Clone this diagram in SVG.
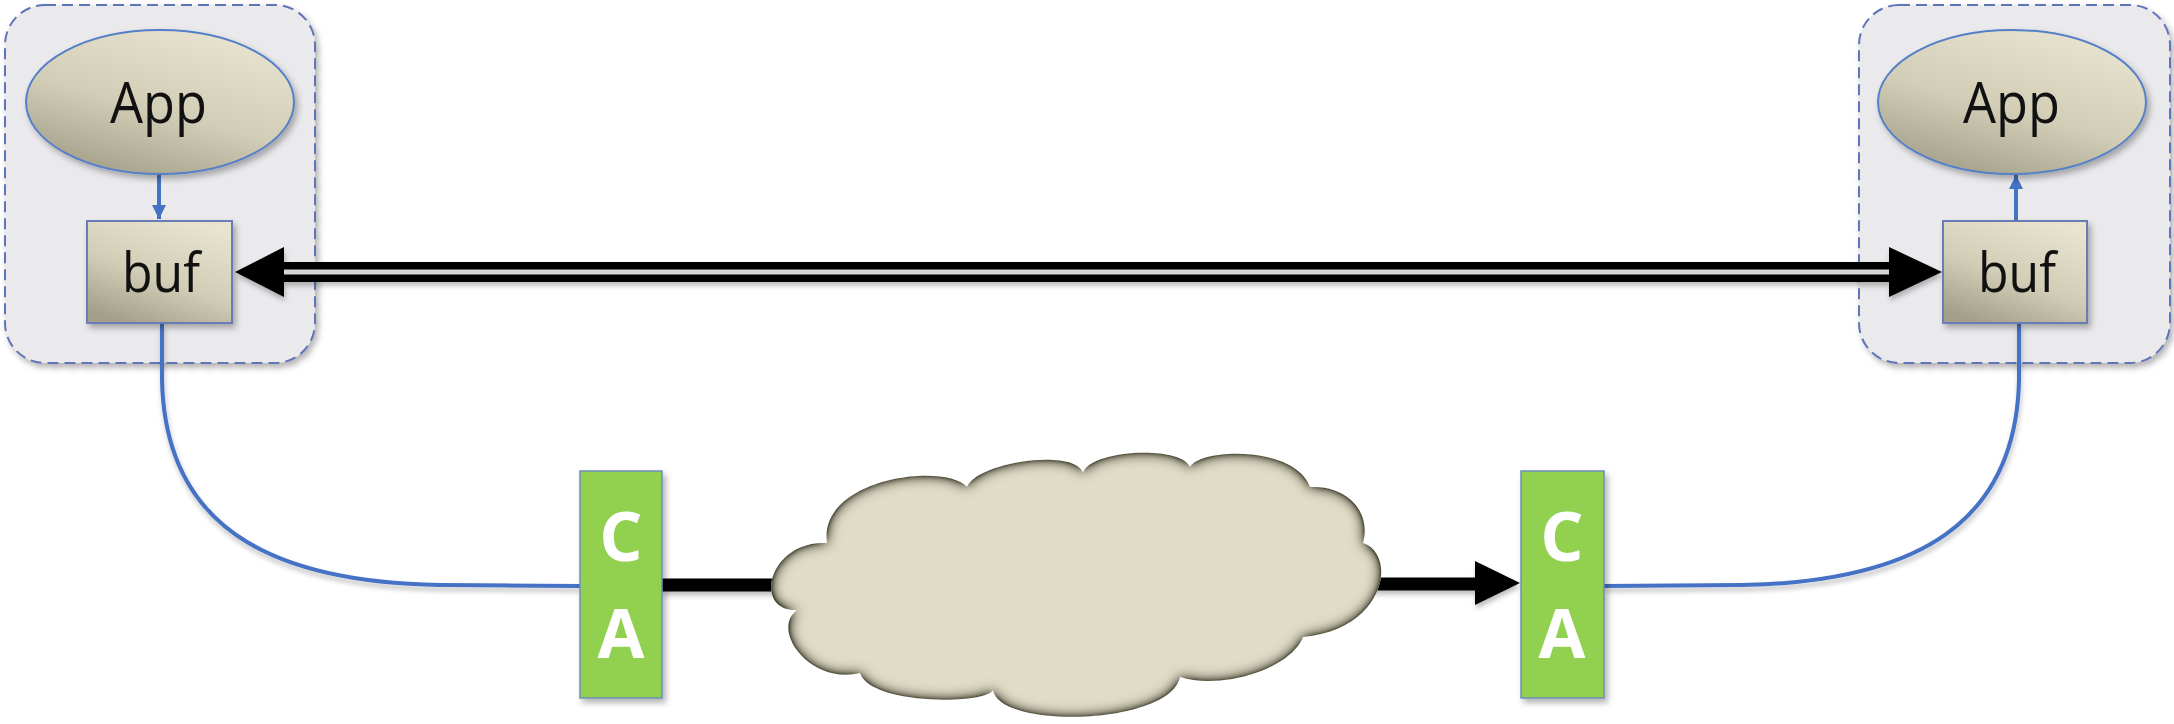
<svg xmlns="http://www.w3.org/2000/svg" width="2174" height="724" viewBox="0 0 2174 724">
<style>
.grp{fill:#eaeaed;stroke:#5f74b8;stroke-width:2;stroke-dasharray:11 6}
.app{fill:url(#beige);stroke:#5580c8;stroke-width:2}
.buf{fill:url(#beige);stroke:#6a7db2;stroke-width:2}
.ca{fill:#92d050;stroke:#6c8fb5;stroke-width:1.5}
.lbl{font-family:"Open Sans","Liberation Sans",sans-serif;fill:#111;text-anchor:middle}
.calbl{font-family:"Open Sans","Liberation Sans",sans-serif;font-weight:bold;fill:#fff;text-anchor:middle;font-size:68px}
.blue{fill:none;stroke:#4472c4;stroke-width:4}
.thick{fill:none;stroke:#000;stroke-width:13}
</style>
<defs>
<linearGradient id="beige" x1="0.75" y1="0" x2="0.25" y2="1">
<stop offset="0" stop-color="#e8e4d0"/>
<stop offset="0.55" stop-color="#d2cdb6"/>
<stop offset="1" stop-color="#a39f89"/>
</linearGradient>
<filter id="sh" x="-10%" y="-10%" width="130%" height="130%">
<feDropShadow dx="3" dy="4" stdDeviation="3" flood-color="#000" flood-opacity="0.3"/>
</filter>
<filter id="lsh" x="-5%" y="-20%" width="110%" height="160%">
<feDropShadow dx="1" dy="4" stdDeviation="2.5" flood-color="#000" flood-opacity="0.25"/>
</filter>
<filter id="inset" x="-5%" y="-5%" width="110%" height="110%">
<feGaussianBlur in="SourceAlpha" stdDeviation="7" result="blur"/>
<feComposite in="SourceAlpha" in2="blur" operator="out" result="edge0"/>
<feComponentTransfer in="edge0" result="edge">
<feFuncA type="linear" slope="2" intercept="0"/>
</feComponentTransfer>
<feFlood flood-color="#4a4834" flood-opacity="1"/>
<feComposite in2="edge" operator="in" result="shadow"/>
<feMerge><feMergeNode in="SourceGraphic"/><feMergeNode in="shadow"/></feMerge>
</filter>
<marker id="bluehead" viewBox="0 0 10 10" refX="10" refY="5" markerWidth="3.6" markerHeight="4.4" markerUnits="strokeWidth" orient="auto">
<path d="M0,0 L10,5 L0,10 Z" fill="#4472c4"/>
</marker>
</defs>

<g id="host-left">
<rect class="grp" x="5" y="5" width="310" height="358" rx="40" filter="url(#sh)"/>
</g>
<g id="host-right">
<rect class="grp" x="1859" y="5" width="311" height="358" rx="40" filter="url(#sh)"/>
</g>

<g id="connectors">
<path class="blue" d="M159,174 V219" stroke-width="5" marker-end="url(#bluehead)"/>
<path class="blue" d="M2016,221 V175" stroke-width="5" marker-end="url(#bluehead)"/>
<g filter="url(#lsh)">
<path class="blue" d="M162,324 V380 C165,520 260,582 440,585 L580,586"/>
<path class="blue" d="M2019,324 V380 C2016,520 1921,582 1741,585 L1604,586"/>
</g>
<g filter="url(#lsh)">
<path d="M280,272 H1893" stroke="#000" stroke-width="20" fill="none"/>
<path d="M280,272 H1893" stroke="#d6d6d6" stroke-width="5" fill="none"/>
<path d="M235,272 L284,247 L284,297 Z" fill="#000"/>
<path d="M1942,272 L1889,247 L1889,297 Z" fill="#000"/>
<path class="thick" d="M662,585 H790"/>
<path class="thick" d="M1360,584 H1478"/>
<path d="M1520,583 L1475,561 L1475,605 Z" fill="#000"/>
</g>
</g>

<g id="app-left">
<ellipse class="app" cx="160" cy="102" rx="134" ry="72" filter="url(#sh)"/>
<text class="lbl" x="158.5" y="123" font-size="57" textLength="97" lengthAdjust="spacingAndGlyphs">App</text>
</g>
<g id="app-right">
<ellipse class="app" cx="2012" cy="102" rx="134" ry="72" filter="url(#sh)"/>
<text class="lbl" x="2011.5" y="123" font-size="57" textLength="97" lengthAdjust="spacingAndGlyphs">App</text>
</g>
<g id="buf-left">
<rect class="buf" x="87" y="221" width="145" height="102" filter="url(#sh)"/>
<text class="lbl" x="161" y="292" font-size="55" textLength="78" lengthAdjust="spacingAndGlyphs">buf</text>
</g>
<g id="buf-right">
<rect class="buf" x="1943" y="221" width="144" height="102" filter="url(#sh)"/>
<text class="lbl" x="2017" y="292" font-size="55" textLength="78" lengthAdjust="spacingAndGlyphs">buf</text>
</g>

<g id="ca-left">
<rect class="ca" x="580" y="471" width="82" height="227" filter="url(#sh)"/>
<text class="calbl" x="621" y="561">C</text>
<text class="calbl" x="621" y="658">A</text>
</g>
<g id="ca-right">
<rect class="ca" x="1521" y="471" width="83" height="227" filter="url(#sh)"/>
<text class="calbl" x="1562" y="561">C</text>
<text class="calbl" x="1562" y="658">A</text>
</g>

<g id="cloud">
<path fill="#e0dcc6" filter="url(#inset)" d="M797,610 C752,612 768,540 827,543 C818,478 945,462 967,487 C977,462 1075,448 1083,473 C1090,450 1180,445 1190,467 C1200,448 1295,445 1310,487 C1345,485 1372,510 1363,543 C1398,555 1385,630 1303,637 C1290,670 1220,690 1180,677 C1170,725 1000,730 993,690 C985,705 870,705 860,673 C810,685 770,630 797,610 Z"/>
</g>
</svg>
